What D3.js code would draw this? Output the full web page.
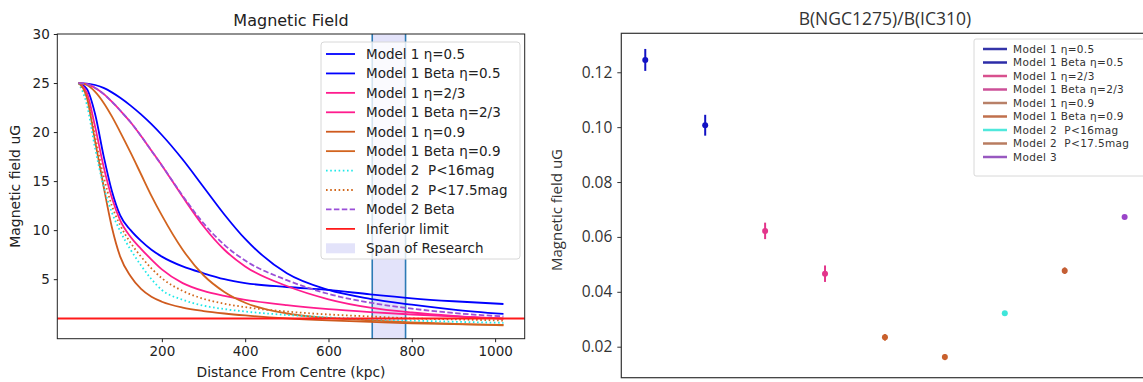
<!DOCTYPE html>
<html>
<head>
<meta charset="utf-8">
<script src="https://cdn.jsdelivr.net/npm/d3@7"></script>
<style>
  body { margin: 0; background: #fff; }
  svg { display: block; }
  .lt text { font-family: 'DejaVu Sans', sans-serif; fill: #222; }
  .rt text { font-family: 'Open Sans', sans-serif; fill: #333; }
</style>
</head>
<body>
<svg id="chart" width="1143" height="382"></svg>
<script>
  // ---- left panel: field profiles ----
  var distances = [0, 20, 40, 60, 80, 100, 125, 150, 175, 200, 250, 300, 350, 400, 500, 600, 700, 800, 900, 1020];

  var m1Eta05     = [25, 24.4, 21.8, 17.6, 14.0, 11.5, 10.0, 8.9, 8.0, 7.3, 6.3, 5.6, 5.0, 4.6, 4.2, 3.9, 3.45, 3.05, 2.75, 2.47];
  var m1BetaEta05 = [25, 24.95, 24.8, 24.5, 24.05, 23.5, 22.7, 21.8, 20.8, 19.7, 17.2, 14.4, 11.6, 9.1, 5.6, 3.9, 3.0, 2.4, 1.9, 1.45];
  var m1Eta23     = [25, 24.0, 20.5, 16.5, 13.3, 11.0, 9.3, 8.1, 7.0, 6.0, 4.6, 3.8, 3.3, 2.9, 2.35, 1.95, 1.65, 1.4, 1.2, 1.0];
  var m1BetaEta23 = [25, 24.9, 24.5, 23.9, 23.1, 22.2, 21.0, 19.6, 18.1, 16.6, 13.4, 10.4, 8.0, 6.3, 4.3, 2.95, 2.1, 1.6, 1.25, 0.95];
  var m1Eta09     = [25, 23.5, 19.0, 14.5, 10.3, 7.3, 5.3, 4.0, 3.2, 2.7, 2.1, 1.75, 1.5, 1.3, 1.0, 0.8, 0.65, 0.5, 0.42, 0.33];
  var m1BetaEta09 = [25, 24.8, 24.1, 23.0, 21.6, 20.0, 17.9, 15.7, 13.5, 11.5, 8.0, 5.4, 3.7, 2.6, 1.5, 1.05, 0.8, 0.6, 0.45, 0.3];
  var m2P16       = [25, 22.8, 18.3, 14.5, 11.8, 9.9, 8.0, 6.4, 5.0, 3.9, 2.9, 2.3, 1.95, 1.7, 1.35, 1.1, 0.92, 0.78, 0.66, 0.55];
  var m2P175      = [25, 23.5, 19.5, 15.5, 12.5, 10.5, 8.7, 7.3, 6.1, 5.1, 3.8, 3.0, 2.5, 2.15, 1.7, 1.4, 1.2, 1.0, 0.9, 0.78];
  var m2Beta      = [25, 24.9, 24.5, 23.9, 23.1, 22.2, 21.0, 19.6, 18.1, 16.6, 13.5, 10.7, 8.5, 6.9, 4.9, 3.5, 2.6, 2.0, 1.55, 1.2];

  var inferiorLimit = 1;
  var researchSpan = [705, 785];

  var profileNames = ['Model 1 η=0.5', 'Model 1 Beta η=0.5', 'Model 1 η=2/3', 'Model 1 Beta η=2/3',
    'Model 1 η=0.9', 'Model 1 Beta η=0.9', 'Model 2  P<16mag', 'Model 2  P<17.5mag', 'Model 2 Beta'];
  var profileValues = [m1Eta05, m1BetaEta05, m1Eta23, m1BetaEta23, m1Eta09, m1BetaEta09, m2P16, m2P175, m2Beta];

  var leftXTicks = [200, 400, 600, 800, 1000];
  var leftYTicks = [5, 10, 15, 20, 25, 30];

  // ---- right panel: ratio per model ----
  var ratioNames = ['Model 1 η=0.5', 'Model 1 Beta η=0.5', 'Model 1 η=2/3', 'Model 1 Beta η=2/3',
    'Model 1 η=0.9', 'Model 1 Beta η=0.9', 'Model 2  P<16mag', 'Model 2  P<17.5mag', 'Model 3'];
  var ratioValues = [0.1245, 0.1007, 0.0622, 0.0466, 0.0234, 0.0162, 0.0322, 0.0477, 0.0673];
  var ratioErrors = [0.0040, 0.0038, 0.0030, 0.0030, 0.0012, 0.0011, 0.0005, 0.0012, 0.0004];
  var rightYTicks = [0.02, 0.04, 0.06, 0.08, 0.10, 0.12];

  // styles
  var profileStyles = [
    { color: '#0000ff', dash: null },
    { color: '#0000ff', dash: null },
    { color: '#ff1c8e', dash: null },
    { color: '#ff1c8e', dash: null },
    { color: '#cf5a1e', dash: null },
    { color: '#d2641f', dash: null },
    { color: '#1ee8e8', dash: '1.6,2.6' },
    { color: '#d2691e', dash: '1.6,2.6' },
    { color: '#9a4fd8', dash: '5.5,2.4' }
  ];
  var ratioColors = ['#1212c4', '#1212c4', '#e3358b', '#e3358b', '#c9602c', '#c9602c', '#3ee6da', '#c45e34', '#9a44c8'];
  var ratioLegendColors = ['#3434a8', '#2c2ca8', '#d8508e', '#cc5098', '#b88068', '#c0704c', '#50e8dc', '#b87c60', '#9858c0'];

  var svg = d3.select('#chart');

  //
  //  left chart
  //
  var L = { left: 57.3, top: 34, right: 524.7, bottom: 338.7 };

  var x = d3.scaleLinear().domain([-51, 1071]).range([L.left, L.right]);
  var y = d3.scaleLinear().domain([-1.07, 30]).range([L.bottom, L.top]);

  var left = svg.append('g').attr('class', 'lt');

  left.append('rect')
    .attr('x', x(researchSpan[0]))
    .attr('y', L.top)
    .attr('width', x(researchSpan[1]) - x(researchSpan[0]))
    .attr('height', L.bottom - L.top)
    .attr('fill', '#e3e3fa');

  left.selectAll('line.span')
    .data(researchSpan)
    .enter().append('line')
      .attr('class', 'span')
      .attr('x1', function(d) { return x(d); })
      .attr('x2', function(d) { return x(d); })
      .attr('y1', L.top)
      .attr('y2', L.bottom)
      .attr('stroke', '#2d7bb6')
      .attr('stroke-width', 1.6);

  var lineGen = d3.line()
    .curve(d3.curveMonotoneX)
    .x(function(d, i) { return x(distances[i]); })
    .y(function(d) { return y(d); });

  left.append('g')
    .selectAll('path')
    .data(profileValues)
    .enter().append('path')
      .attr('fill', 'none')
      .attr('stroke', function(d, i) { return profileStyles[i].color; })
      .attr('stroke-dasharray', function(d, i) { return profileStyles[i].dash; })
      .attr('stroke-width', 1.8)
      .attr('d', lineGen);

  left.append('line')
    .attr('x1', L.left).attr('x2', L.right)
    .attr('y1', y(inferiorLimit)).attr('y2', y(inferiorLimit))
    .attr('stroke', '#ff1a1a')
    .attr('stroke-width', 2);

  var xAxis = left.append('g')
    .attr('transform', 'translate(0,' + L.bottom + ')')
    .call(d3.axisBottom(x).tickValues(leftXTicks).tickSize(3.5).tickPadding(4).tickFormat(d3.format('d')));
  var yAxis = left.append('g')
    .attr('transform', 'translate(' + L.left + ',0)')
    .call(d3.axisLeft(y).tickValues(leftYTicks).tickSize(3.5).tickPadding(4).tickFormat(d3.format('d')));
  [xAxis, yAxis].forEach(function(a) {
    a.select('.domain').remove();
    a.selectAll('line').attr('stroke', '#222');
    a.selectAll('text').style('font-size', '13.5px').attr('fill', '#222');
  });

  left.append('rect')
    .attr('x', L.left).attr('y', L.top)
    .attr('width', L.right - L.left).attr('height', L.bottom - L.top)
    .attr('fill', 'none').attr('stroke', '#222').attr('stroke-width', 1);

  left.append('text')
    .attr('x', (L.left + L.right) / 2).attr('y', 26)
    .attr('text-anchor', 'middle')
    .style('font-size', '16px')
    .text('Magnetic Field');

  left.append('text')
    .attr('x', (L.left + L.right) / 2).attr('y', 377)
    .attr('text-anchor', 'middle')
    .style('font-size', '13.8px')
    .text('Distance From Centre (kpc)');

  left.append('text')
    .attr('transform', 'translate(20,' + (L.top + L.bottom) / 2 + ') rotate(-90)')
    .attr('text-anchor', 'middle')
    .style('font-size', '14px')
    .text('Magnetic field uG');

  // legend
  var lg = left.append('g').attr('transform', 'translate(321,42)');
  lg.append('rect')
    .attr('width', 199).attr('height', 217)
    .attr('rx', 3)
    .attr('fill', 'rgba(255,255,255,0.8)')
    .attr('stroke', '#d8d8d8');

  var legendItems = profileNames.map(function(n, i) {
    return { name: n, color: profileStyles[i].color, dash: profileStyles[i].dash, kind: 'line' };
  });
  legendItems.push({ name: 'Inferior limit', color: '#ff1a1a', dash: null, kind: 'line' });
  legendItems.push({ name: 'Span of Research', color: '#e3e3fa', dash: null, kind: 'patch' });

  var li = lg.selectAll('g.item')
    .data(legendItems)
    .enter().append('g')
      .attr('class', 'item')
      .attr('transform', function(d, i) { return 'translate(0,' + (12 + i * 19.43) + ')'; });

  li.filter(function(d) { return d.kind === 'line'; })
    .append('line')
      .attr('x1', 5).attr('x2', 34)
      .attr('stroke', function(d) { return d.color; })
      .attr('stroke-dasharray', function(d) { return d.dash; })
      .attr('stroke-width', 1.8);

  li.filter(function(d) { return d.kind === 'patch'; })
    .append('rect')
      .attr('x', 5).attr('y', -5).attr('width', 29).attr('height', 10)
      .attr('fill', d3.rgb('#e3e3fa'));

  li.append('text')
    .attr('x', 45).attr('dy', '0.36em')
    .style('font-size', '13.5px')
    .style('white-space', 'pre')
    .text(function(d) { return d.name; });

  //
  //  right chart
  //
  var R = { left: 621.3, top: 33.3, right: 1148.6, bottom: 377.7 };

  var xr = d3.scaleLinear().domain([-0.4, 8.4]).range([R.left, R.right]);
  var yr = d3.scaleLinear().domain([0.0087, 0.1342]).range([R.bottom, R.top]);

  var right = svg.append('g').attr('class', 'rt');

  var pts = right.append('g')
    .selectAll('g')
    .data(ratioValues)
    .enter().append('g');

  pts.append('line')
    .attr('x1', function(d, i) { return xr(i); })
    .attr('x2', function(d, i) { return xr(i); })
    .attr('y1', function(d, i) { return yr(d - ratioErrors[i]); })
    .attr('y2', function(d, i) { return yr(d + ratioErrors[i]); })
    .attr('stroke', function(d, i) { return ratioColors[i]; })
    .attr('stroke-width', 2);

  pts.append('circle')
    .attr('cx', function(d, i) { return xr(i); })
    .attr('cy', function(d) { return yr(d); })
    .attr('r', 3)
    .attr('fill', function(d, i) { return ratioColors[i]; });

  var yrAxis = right.append('g')
    .attr('transform', 'translate(' + R.left + ',0)')
    .call(d3.axisLeft(yr).tickValues(rightYTicks).tickSize(4).tickPadding(5).tickFormat(d3.format('.2f')));
  yrAxis.select('.domain').remove();
  yrAxis.selectAll('line').attr('stroke', '#333');
  yrAxis.selectAll('text').style('font-size', '15.5px').attr('fill', '#333');

  right.append('rect')
    .attr('x', R.left).attr('y', R.top)
    .attr('width', R.right - R.left).attr('height', R.bottom - R.top)
    .attr('fill', 'none').attr('stroke', '#333').attr('stroke-width', 1.2);

  right.append('text')
    .attr('x', (R.left + R.right) / 2).attr('y', 25)
    .attr('text-anchor', 'middle')
    .style('font-size', '17.5px')
    .text('B(NGC1275)/B(IC310)');

  right.append('text')
    .attr('transform', 'translate(562,210) rotate(-90)')
    .attr('text-anchor', 'middle')
    .style('font-size', '15px')
    .text('Magnetic field uG');

  var rg = right.append('g').attr('transform', 'translate(974,39)');
  rg.append('rect')
    .attr('width', 180).attr('height', 137)
    .attr('rx', 2)
    .attr('fill', 'rgba(255,255,255,0.8)')
    .attr('stroke', '#d8d8d8');

  var ri = rg.selectAll('g.item')
    .data(ratioNames)
    .enter().append('g')
      .attr('class', 'item')
      .attr('transform', function(d, i) { return 'translate(0,' + (10 + i * 13.5) + ')'; });

  ri.append('line')
    .attr('x1', 9).attr('x2', 33)
    .attr('stroke', function(d, i) { return ratioLegendColors[i]; })
    .attr('stroke-width', 2.5);

  ri.append('text')
    .attr('x', 39).attr('dy', '0.36em')
    .style('font-family', "'DejaVu Sans', sans-serif")
    .style('font-size', '10.5px')
    .style('letter-spacing', '0.35px')
    .style('white-space', 'pre')
    .attr('fill', '#444')
    .text(function(d) { return d; });
</script>
</body>
</html>
